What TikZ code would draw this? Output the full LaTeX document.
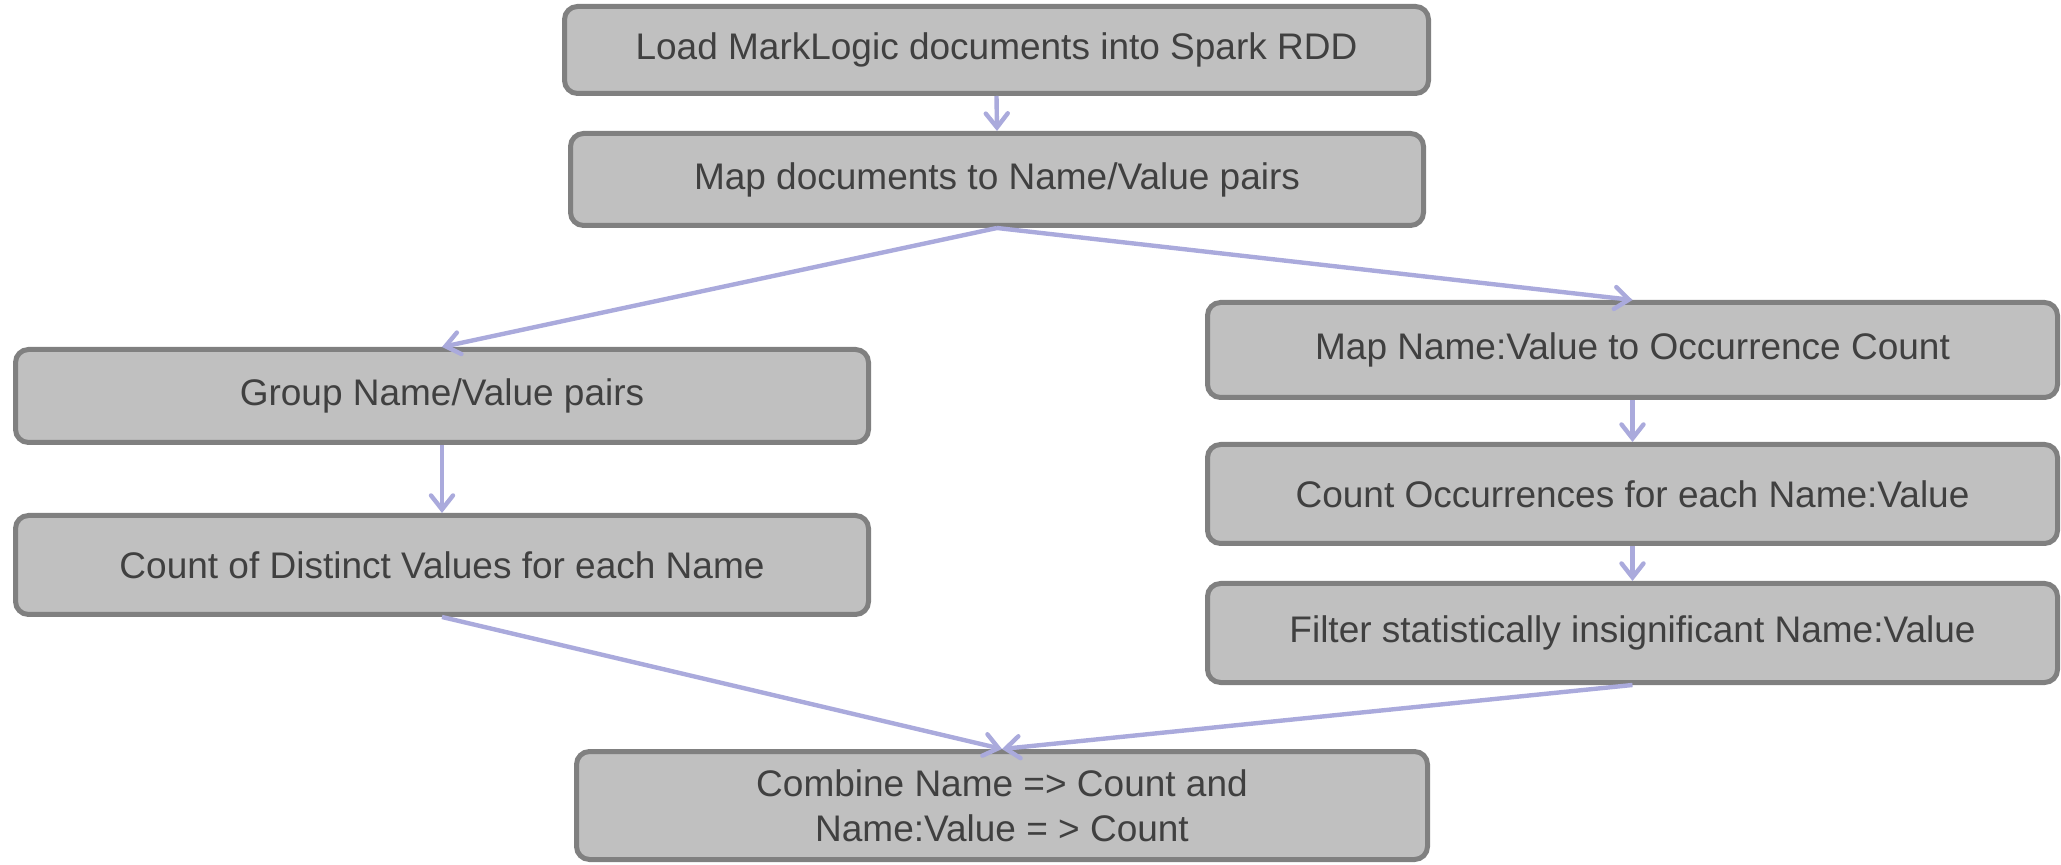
\documentclass[tikz,border=0pt]{standalone}
\usepackage{fontspec}
\setmainfont{Liberation Sans}
\usetikzlibrary{arrows.meta}
\definecolor{boxfill}{RGB}{192,192,192}
\definecolor{boxline}{RGB}{128,128,128}
\definecolor{boxtext}{RGB}{64,64,64}
\definecolor{flow}{RGB}{170,170,220}
\tikzset{
  stepbox/.style={draw=boxline, fill=boxfill, line width=2.5pt,
    rounded corners=6.5pt, inner sep=0pt, text=boxtext, align=center,
    font=\fontsize{18.5}{22.5}\selectfont},
  flowarrow/.style={draw=flow, line width=2.2pt,
    -{Straight Barb[length=7pt,width=11pt,line cap=round]}}
}
\begin{document}
\begin{tikzpicture}[x=0.5pt, y=-0.5pt]
\useasboundingbox (0,0) rectangle (2061,865);

% top of the pipeline
\node[stepbox, minimum width=432pt, minimum height=43.5pt] (load) at (996.5,50)
  {Load MarkLogic documents into Spark RDD};
\node[stepbox, minimum width=426.5pt, minimum height=46pt] (mapdocs) at (997,179.5)
  {Map documents to Name/Value pairs};

% left branch
\node[stepbox, minimum width=426.5pt, minimum height=46.5pt] (group) at (442,396)
  {Group Name/Value pairs};
\node[stepbox, minimum width=426.5pt, minimum height=49.5pt] (countd) at (442,565)
  {Count of Distinct Values for each Name};

% right branch
\node[stepbox, minimum width=425pt, minimum height=47.5pt] (mapnv) at (1632.5,350)
  {Map Name:Value to Occurrence Count};
\node[stepbox, minimum width=425pt, minimum height=49.5pt] (countocc) at (1632.5,494)
  {Count Occurrences for each Name:Value};
\node[stepbox, minimum width=425pt, minimum height=49.5pt] (filter) at (1632.5,633)
  {Filter statistically insignificant Name:Value};

% merge
\node[stepbox, minimum width=425.5pt, minimum height=54pt] (combine) at (1002,805.5)
  {Combine Name => Count and\\Name:Value = > Count};

% connectors
\draw[flowarrow] (load.south) -- (mapdocs.north);
\draw[flowarrow] (mapdocs.south) -- (group.north);
\draw[flowarrow] (mapdocs.south) -- (mapnv.north);
\draw[flowarrow] (group.south) -- (countd.north);
\draw[flowarrow] (mapnv.south) -- (countocc.north);
\draw[flowarrow] (countocc.south) -- (filter.north);
\draw[flowarrow] (countd.south) -- (combine.north);
\draw[flowarrow] (filter.south) -- (combine.north);
\end{tikzpicture}
\end{document}
